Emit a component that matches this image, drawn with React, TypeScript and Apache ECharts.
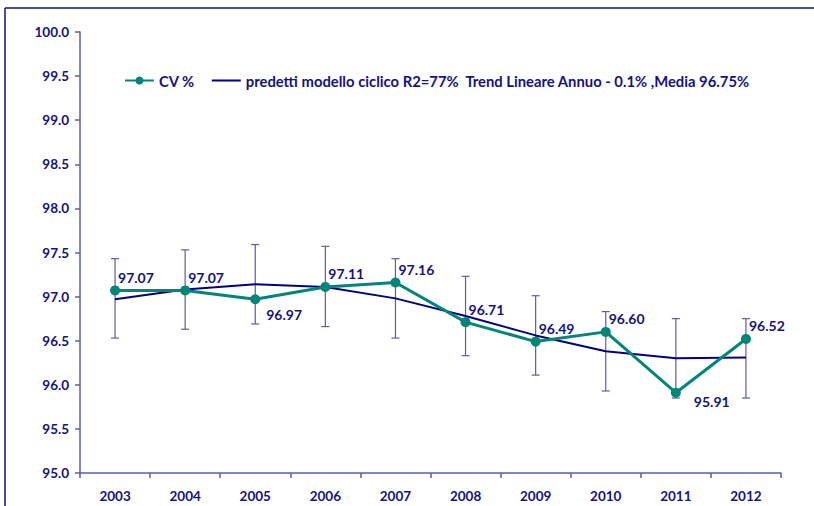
import React, { useEffect, useRef } from "react";
import * as echarts from "echarts";

const years = ["2003", "2004", "2005", "2006", "2007", "2008", "2009", "2010", "2011", "2012"];
const cvValues = [97.07, 97.07, 96.97, 97.11, 97.16, 96.71, 96.49, 96.60, 95.91, 96.52];
const predicted = [96.97, 97.08, 97.14, 97.11, 96.98, 96.78, 96.56, 96.38, 96.30, 96.31];
const errHigh = [97.43, 97.53, 97.59, 97.57, 97.43, 97.23, 97.01, 96.83, 96.75, 96.75];
const errLow = [96.53, 96.63, 96.69, 96.66, 96.53, 96.33, 96.11, 95.93, 95.85, 95.85];
const belowLabelIdx = [2, 8];

const NAVY = "#14147a";
const AXIS = "#5c5caa";
const TEAL = "#008577";
const FONT = "Lato, 'Open Sans', sans-serif";
const PRED_NAME = "predetti modello ciclico R2=77%  Trend Lineare Annuo - 0.1% ,Media 96.75%";

export default function App() {
  const ref = useRef<HTMLDivElement>(null);
  useEffect(() => {
    if (!ref.current) return;
    const chart = echarts.init(ref.current, null, { renderer: "svg" });
    const errData = years.map((_, i) => [i, errLow[i], errHigh[i]]);
    chart.setOption({
      animation: false,
      backgroundColor: "#ffffff",
      textStyle: { fontFamily: FONT },
      grid: { left: 80, right: 33, top: 32, bottom: 33 },
      graphic: [
        { type: "line", shape: { x1: 5, y1: 8, x2: 814, y2: 8 }, style: { stroke: "#10107a", lineWidth: 1.5 } },
        { type: "line", shape: { x1: 5, y1: 8, x2: 5, y2: 506 }, style: { stroke: "#10107a", lineWidth: 1.5 } },
      ],
      legend: {
        left: 119,
        top: 68,
        itemWidth: 29,
        itemHeight: 10,
        itemGap: 16,
        textStyle: { color: NAVY, fontWeight: "bold", fontSize: 14.8, fontFamily: FONT },
        data: [
          { name: "CV %" },
          { name: PRED_NAME, itemStyle: { opacity: 0 } },
        ],
      },
      xAxis: {
        type: "category",
        data: years,
        boundaryGap: true,
        axisLine: { lineStyle: { color: AXIS, width: 1.5 } },
        axisTick: { show: true, length: 5, lineStyle: { color: AXIS, width: 1.5 } },
        axisLabel: { color: NAVY, fontWeight: "bold", fontSize: 13.5, margin: 16, fontFamily: FONT },
      },
      yAxis: {
        type: "value",
        min: 95,
        max: 100,
        interval: 0.5,
        splitLine: { show: false },
        axisLine: { show: true, lineStyle: { color: AXIS, width: 1.5 } },
        axisTick: { show: true, length: 5, lineStyle: { color: AXIS, width: 1.5 } },
        axisLabel: {
          color: NAVY,
          fontWeight: "bold",
          fontSize: 13.5,
          margin: 11,
          fontFamily: FONT,
          formatter: (v: number) => v.toFixed(1),
        },
      },
      series: [
        {
          name: "errors",
          type: "custom",
          data: errData,
          z: 1,
          renderItem: (params: any, api: any) => {
            const x = api.value(0);
            const lo = api.coord([x, api.value(1)]);
            const hi = api.coord([x, api.value(2)]);
            const cap = 4;
            const style = { stroke: AXIS, lineWidth: 1.2 };
            return {
              type: "group",
              children: [
                { type: "line", shape: { x1: hi[0], y1: hi[1], x2: lo[0], y2: lo[1] }, style },
                { type: "line", shape: { x1: hi[0] - cap, y1: hi[1], x2: hi[0] + cap, y2: hi[1] }, style },
                { type: "line", shape: { x1: lo[0] - cap, y1: lo[1], x2: lo[0] + cap, y2: lo[1] }, style },
              ],
            };
          },
        },
        {
          name: PRED_NAME,
          type: "line",
          data: predicted,
          symbol: "none",
          z: 2,
          lineStyle: { color: "#000080", width: 2 },
          itemStyle: { color: "#000080" },
        },
        {
          name: "CV %",
          type: "line",
          z: 3,
          data: cvValues.map((v, i) => {
            const below = belowLabelIdx.includes(i);
            return {
              value: v,
              label: below
                ? { position: i === 8 ? [23, 14] : [16, 20] }
                : { position: [8, -8] },
            };
          }),
          symbol: "circle",
          symbolSize: 10,
          lineStyle: { color: TEAL, width: 3 },
          itemStyle: { color: TEAL },
          label: {
            show: true,
            color: NAVY,
            fontWeight: "bold",
            fontSize: 14,
            fontFamily: FONT,
            align: "left",
            verticalAlign: "middle",
            formatter: (p: any) => Number(p.value).toFixed(2),
          },
        },
      ],
    });
    return () => chart.dispose();
  }, []);
  return <div ref={ref} style={{ position: "absolute", left: 0, top: 0, width: 814, height: 506 }} />;
}
